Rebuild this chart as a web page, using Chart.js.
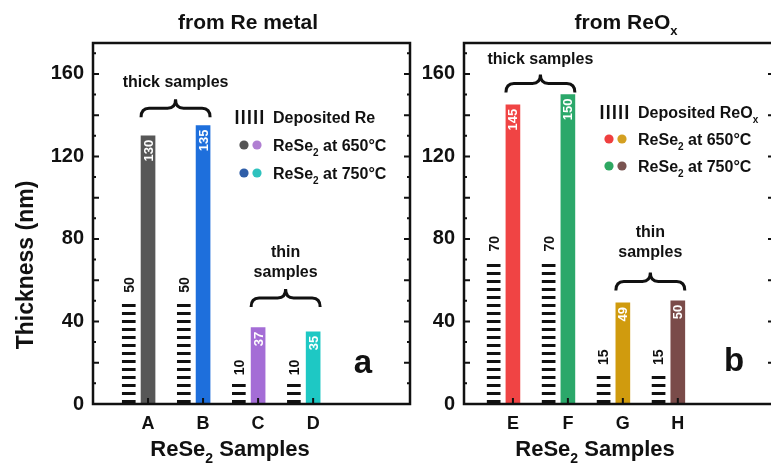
<!DOCTYPE html>
<html>
<head>
<meta charset="utf-8">
<script src="https://cdn.jsdelivr.net/npm/chart.js@4.4.1/dist/chart.umd.min.js"></script>
<style>
  html, body { margin: 0; padding: 0; background: #fff; overflow: hidden; }
  #wrap { position: relative; width: 771px; height: 471px; overflow: hidden; }
  canvas { position: absolute; top: 0; }
  #chart-metal { left: 0; }
  #chart-oxide { left: 415px; }
</style>
</head>
<body>
<div id="wrap">
  <canvas id="chart-metal" width="415" height="471"></canvas>
  <canvas id="chart-oxide" width="365" height="471"></canvas>
</div>
<script>
const FONT = '"Liberation Sans", Arial, sans-serif';

// data
const samplesMetal = ['A', 'B', 'C', 'D'];
const depositedRe = [50, 50, 10, 10];
const reSe2FromMetal = [130, 135, 37, 35];

const samplesOxide = ['E', 'F', 'G', 'H'];
const depositedReOx = [70, 70, 15, 15];
const reSe2FromOxide = [145, 150, 49, 50];

const thicknessTicks = [0, 40, 80, 120, 160];

const metalColors = ['#575757', '#1e6fdc', '#a46dd6', '#1ec8c4'];
const oxideColors = ['#f04444', '#2ba86a', '#d09b0e', '#7a4b49'];

// deposited film bar sits just left of its sample
const DEPOSIT_SHIFT = -0.35;

function makeHatch() {
  const c = document.createElement('canvas');
  c.width = 8;
  c.height = 8;
  const g = c.getContext('2d');
  g.fillStyle = '#111';
  g.fillRect(0, 0, 8, 3);
  return c;
}

// draws "ReSe_2" style text, the char after _ is a subscript
function richText(ctx, str, x, y, size, align) {
  const parts = str.split(/_(.)/);
  const subSize = Math.round(size * 0.62);
  let w = 0;
  parts.forEach((p, i) => {
    ctx.font = `bold ${i % 2 ? subSize : size}px ${FONT}`;
    w += ctx.measureText(p).width;
  });
  let cx = align === 'center' ? x - w / 2 : align === 'right' ? x - w : x;
  ctx.textAlign = 'left';
  ctx.textBaseline = 'alphabetic';
  parts.forEach((p, i) => {
    const sub = i % 2 === 1;
    ctx.font = `bold ${sub ? subSize : size}px ${FONT}`;
    ctx.fillText(p, cx, y + (sub ? size * 0.3 : 0));
    cx += ctx.measureText(p).width;
  });
}

function brace(ctx, x0, x1, yb) {
  const xm = (x0 + x1) / 2, yh = yb - 9, yp = yb - 18, r = 8;
  ctx.beginPath();
  ctx.moveTo(x0, yb);
  ctx.quadraticCurveTo(x0, yh, x0 + r, yh);
  ctx.lineTo(xm - r, yh);
  ctx.quadraticCurveTo(xm, yh, xm, yp);
  ctx.moveTo(x1, yb);
  ctx.quadraticCurveTo(x1, yh, x1 - r, yh);
  ctx.lineTo(xm + r, yh);
  ctx.quadraticCurveTo(xm, yh, xm, yp);
  ctx.lineWidth = 3;
  ctx.strokeStyle = '#111';
  ctx.stroke();
}

function decorPlugin(cfg) {
  return {
    id: 'decor',
    afterDatasetsDraw(chart) {
      const ctx = chart.ctx;
      const { left, right, top, bottom } = chart.chartArea;
      const xs = chart.scales.x, ys = chart.scales.y;
      const dep = chart.getDatasetMeta(0).data;
      const bars = chart.getDatasetMeta(1).data;
      ctx.save();
      ctx.fillStyle = '#111';
      ctx.strokeStyle = '#111';

      // frame and inward ticks
      ctx.lineWidth = 2.5;
      ctx.strokeRect(left, top, right - left, bottom - top);
      ctx.lineWidth = 2;
      ctx.beginPath();
      for (let v = 10; v < 175; v += 10) {
        const py = ys.getPixelForValue(v);
        const len = v % 20 === 0 ? 6 : 3;
        ctx.moveTo(left, py); ctx.lineTo(left + len, py);
        ctx.moveTo(right, py); ctx.lineTo(right - len, py);
      }
      xs.ticks.forEach(t => {
        const px = xs.getPixelForValue(t.value);
        ctx.moveTo(px, bottom); ctx.lineTo(px, bottom - 6);
      });
      ctx.stroke();

      // values on the bars
      dep.forEach((el, i) => {
        ctx.save();
        ctx.translate(el.x + 1, el.y - 8);
        ctx.rotate(-Math.PI / 2);
        ctx.font = `bold 14px ${FONT}`;
        ctx.textAlign = 'left';
        ctx.textBaseline = 'middle';
        ctx.fillStyle = '#111';
        ctx.fillText(String(chart.data.datasets[0].data[i].y), 0, 0);
        ctx.restore();
      });
      bars.forEach((el, i) => {
        ctx.save();
        ctx.translate(el.x, el.y + 4);
        ctx.rotate(-Math.PI / 2);
        ctx.font = `bold 13px ${FONT}`;
        ctx.textAlign = 'right';
        ctx.textBaseline = 'middle';
        ctx.fillStyle = '#fff';
        ctx.fillText(String(chart.data.datasets[1].data[i].y), 0, 1);
        ctx.restore();
      });

      // thick / thin sample braces
      cfg.groups.forEach(g => {
        const a = bars[g.first], b = bars[g.last];
        const x0 = a.x - a.width / 2, x1 = b.x + b.width / 2;
        brace(ctx, x0, x1, ys.getPixelForValue(g.braceAt));
        g.text.forEach((line, k) => {
          ctx.font = `bold 16px ${FONT}`;
          ctx.textAlign = 'center';
          ctx.textBaseline = 'middle';
          ctx.fillText(line, (x0 + x1) / 2, ys.getPixelForValue(g.textAt) + k * 20);
        });
      });

      // legend
      const lg = cfg.legend;
      cfg.legendRows.forEach((row, k) => {
        const cy = lg.y + k * lg.step;
        if (row.kind === 'hatch') {
          ctx.lineWidth = 2.5;
          ctx.beginPath();
          for (let j = 0; j < 5; j++) {
            const lx = lg.x - 36 + j * 6.2;
            ctx.moveTo(lx, cy - 7); ctx.lineTo(lx, cy + 7);
          }
          ctx.stroke();
        } else {
          row.dots.forEach((c, j) => {
            ctx.fillStyle = c;
            ctx.beginPath();
            ctx.arc(lg.x - 29 + j * 13, cy, 4.6, 0, Math.PI * 2);
            ctx.fill();
          });
        }
        ctx.fillStyle = '#111';
        richText(ctx, row.text, lg.x, cy + 6, 16, 'left');
      });

      // panel letter, titles
      ctx.font = `bold 33px ${FONT}`;
      ctx.textAlign = 'center';
      ctx.textBaseline = 'middle';
      ctx.fillText(cfg.letter.text, cfg.letter.x, cfg.letter.y);

      richText(ctx, cfg.title.text, cfg.title.x, cfg.title.y, 21, 'center');
      richText(ctx, 'ReSe_2 Samples', cfg.xTitle.x, cfg.xTitle.y, 22, 'center');

      if (cfg.yTitle) {
        ctx.save();
        ctx.translate(cfg.yTitle.x, cfg.yTitle.y);
        ctx.rotate(-Math.PI / 2);
        ctx.font = `bold 23px ${FONT}`;
        ctx.textAlign = 'center';
        ctx.textBaseline = 'middle';
        ctx.fillText(cfg.yTitle.text, 0, 0);
        ctx.restore();
      }
      ctx.restore();
    }
  };
}

function buildChart(canvasId, labels, deposited, rese2, colors, cfg) {
  const ctx = document.getElementById(canvasId).getContext('2d');
  const hatch = ctx.createPattern(makeHatch(), 'repeat');
  const tickFont = { family: FONT, weight: 'bold' };
  return new Chart(ctx, {
    type: 'bar',
    data: {
      datasets: [
        {
          label: 'deposited',
          data: deposited.map((v, i) => ({ x: i + 1 + DEPOSIT_SHIFT, y: v })),
          backgroundColor: hatch,
          barThickness: 13,
          grouped: false
        },
        {
          label: 'ReSe2',
          data: rese2.map((v, i) => ({ x: i + 1, y: v })),
          backgroundColor: colors,
          barThickness: 14,
          grouped: false
        }
      ]
    },
    options: {
      responsive: false,
      animation: false,
      layout: { padding: { top: 43, right: cfg.padRight, left: 0, bottom: 0 } },
      plugins: { legend: { display: false }, tooltip: { enabled: false } },
      scales: {
        x: {
          type: 'linear',
          offset: false,
          min: cfg.xMin,
          max: cfg.xMax,
          grid: { display: false, drawTicks: false },
          border: { display: false },
          afterBuildTicks: s => { s.ticks = labels.map((_, i) => ({ value: i + 1 })); },
          afterFit: s => { s.height = 67; },
          ticks: {
            padding: 9, color: '#111', autoSkip: false, maxRotation: 0,
            font: { ...tickFont, size: 18 },
            callback: v => labels[v - 1]
          }
        },
        y: {
          min: 0,
          max: 175,
          grid: { display: false, drawTicks: false },
          border: { display: false },
          afterBuildTicks: s => { s.ticks = thicknessTicks.map(v => ({ value: v })); },
          afterFit: s => { s.width = cfg.yWidth; },
          ticks: { padding: 9, color: '#111', font: { ...tickFont, size: 20 } }
        }
      }
    },
    plugins: [decorPlugin(cfg)]
  });
}

buildChart('chart-metal', samplesMetal, depositedRe, reSe2FromMetal, metalColors, {
  xMin: 0, xMax: 5.76, yWidth: 93, padRight: 5,
  title: { text: 'from Re metal', x: 248, y: 29 },
  xTitle: { x: 230, y: 456 },
  yTitle: { text: 'Thickness (nm)', x: 27, y: 265 },
  letter: { text: 'a', x: 363, y: 364 },
  legend: { x: 273, y: 117, step: 28 },
  legendRows: [
    { kind: 'hatch', text: 'Deposited Re' },
    { kind: 'dots', dots: ['#555555', '#b07fd2'], text: 'ReSe_2 at 650°C' },
    { kind: 'dots', dots: ['#2f5ea8', '#2fc2be'], text: 'ReSe_2 at 750°C' }
  ],
  groups: [
    { first: 0, last: 1, braceAt: 139, text: ['thick samples'], textAt: 156 },
    { first: 2, last: 3, braceAt: 47, text: ['thin', 'samples'], textAt: 73.5 }
  ]
});

buildChart('chart-oxide', samplesOxide, depositedReOx, reSe2FromOxide, oxideColors, {
  xMin: 0.11, xMax: 5.75, yWidth: 49, padRight: 6,
  title: { text: 'from ReO_x', x: 211, y: 29 },
  xTitle: { x: 180, y: 456 },
  yTitle: null,
  letter: { text: 'b', x: 319, y: 362 },
  legend: { x: 223, y: 112, step: 27 },
  legendRows: [
    { kind: 'hatch', text: 'Deposited ReO_x' },
    { kind: 'dots', dots: ['#ef3f3f', '#d4a021'], text: 'ReSe_2 at 650°C' },
    { kind: 'dots', dots: ['#2ea862', '#7a5451'], text: 'ReSe_2 at 750°C' }
  ],
  groups: [
    { first: 0, last: 1, braceAt: 151, text: ['thick samples'], textAt: 167 },
    { first: 2, last: 3, braceAt: 55, text: ['thin', 'samples'], textAt: 83 }
  ]
});
</script>
</body>
</html>
